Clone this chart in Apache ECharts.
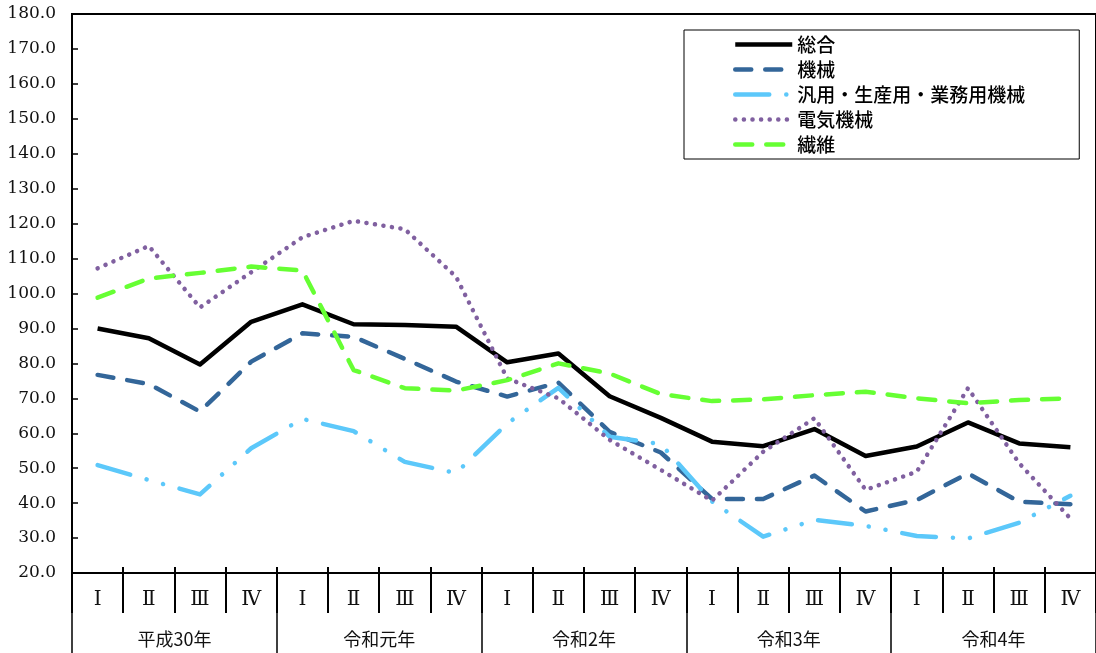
<!DOCTYPE html>
<html><head><meta charset="utf-8">
<script src="https://cdn.jsdelivr.net/npm/echarts@6/dist/echarts.min.js"></script>
<style>html,body{margin:0;padding:0;background:#fff}#c{width:1096px;height:653px}</style>
</head><body><div id="c"></div>
<script>
const quarters = ['Ⅰ','Ⅱ','Ⅲ','Ⅳ','Ⅰ','Ⅱ','Ⅲ','Ⅳ','Ⅰ','Ⅱ','Ⅲ','Ⅳ','Ⅰ','Ⅱ','Ⅲ','Ⅳ','Ⅰ','Ⅱ','Ⅲ','Ⅳ'];
const years = ['平成30年','令和元年','令和2年','令和3年','令和4年'];
const sogo    = [90.0,87.2,79.7,91.9, 96.9,91.2,91.0,90.5, 80.3,82.8,70.6,64.4, 57.6,56.3,61.2,53.5, 56.2,63.1,57.1,56.0];
const kikai   = [76.7,74.1,66.2,80.5, 88.6,87.6,81.3,74.8, 70.5,74.5,60.4,54.5, 41.2,41.2,47.9,37.6, 40.9,48.5,40.4,39.7];
const hanyo   = [50.9,46.6,42.5,55.7, 64.1,60.6,51.8,48.6, 62.8,73.0,59.0,56.9, 40.5,30.4,35.2,33.5, 30.6,29.9,34.4,42.1];
const denki   = [107.2,113.6,96.0,106.1, 116.1,120.8,118.4,104.8, 75.7,70.0,58.1,49.5, 40.7,54.7,64.3,43.8, 49.0,72.9,51.4,35.6];
const seni    = [98.8,104.3,105.9,107.7, 106.6,78.1,72.9,72.2, 75.2,80.0,77.1,71.2, 69.2,69.7,70.9,71.9, 70.0,68.6,69.5,70.0];
const names = ['総合','機械','汎用・生産用・業務用機械','電気機械','繊維'];

const serif = "'DejaVu Serif','Liberation Serif','Noto Sans CJK JP',serif";
const cjk = "'Noto Sans CJK JP',sans-serif";
const chart = echarts.init(document.getElementById('c'));
function line(name, data, color, type, cap) {
  return {name, type:'line', data, symbol:'none', xAxisIndex:0, yAxisIndex:0,
    lineStyle:{color, width:4.5, type, cap:cap||'butt', join:'round'}, itemStyle:{color}, z:3};
}
chart.setOption({
  animation:false,
  grid:{left:72, top:14, width:1025, height:559, show:true, borderColor:'#000', borderWidth:2, backgroundColor:'transparent'},
  legend:{
    data:names, orient:'vertical', left:684, top:30,
    padding:[5,54,5,49], itemGap:6, itemWidth:57, itemHeight:14,
    backgroundColor:'#fff', borderColor:'#000', borderWidth:1,
    itemStyle:{color:'rgba(0,0,0,0)', borderWidth:0, opacity:0},
    lineStyle:{width:4.5},
    textStyle:{fontFamily:cjk, fontSize:19, color:'#000', fontWeight:500, lineHeight:19}
  },
  xAxis:[
    {type:'category', data:quarters, position:'bottom', offset:0, boundaryGap:true,
     axisLine:{show:true, lineStyle:{color:'#000', width:2}},
     axisTick:{show:true, inside:true, length:6, interval:0, lineStyle:{color:'#000', width:2}},
     axisLabel:{show:true, interval:0, margin:17, fontFamily:serif, fontSize:20, color:'#111'}},
    {type:'category', data:quarters, position:'bottom', offset:0, boundaryGap:true,
     axisLine:{show:false},
     axisTick:{show:true, length:40, interval:0, lineStyle:{color:'#000', width:2}},
     axisLabel:{show:false}},
    {type:'category', data:years, position:'bottom', offset:0, boundaryGap:true,
     axisLine:{show:false},
     axisTick:{show:true, length:80, interval:0, lineStyle:{color:'#000', width:1.5}},
     axisLabel:{show:true, interval:0, margin:57, fontFamily:cjk, fontSize:18, color:'#111'}}
  ],
  yAxis:{type:'value', min:20, max:180, interval:10,
    axisLine:{show:true, lineStyle:{color:'#000', width:2}},
    axisTick:{show:true, inside:true, length:6, lineStyle:{color:'#000', width:1.5}},
    splitLine:{show:false},
    axisLabel:{margin:16, fontFamily:serif, fontSize:17, color:'#111', formatter:v=>v.toFixed(1)}},
  series:[
    line(names[0], sogo, '#000000', 'solid'),
    line(names[1], kikai, '#336699', [16,14], 'round'),
    line(names[2], hanyo, '#5CC8FA', [34,17,0.1,17,0.1,17], 'round'),
    line(names[3], denki, '#8060A0', [0.1,8.5], 'round'),
    line(names[4], seni, '#66FF33', [17,14], 'round')
  ]
});
</script></body></html>
